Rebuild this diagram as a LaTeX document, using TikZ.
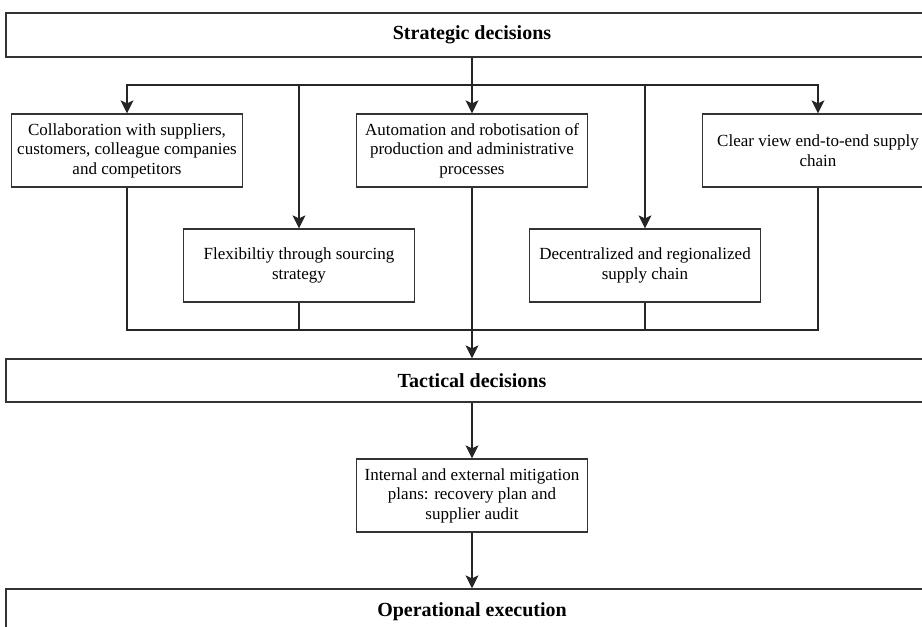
\documentclass[tikz,border=0pt]{standalone}
\usepackage{fontspec}
\setmainfont{Liberation Serif}
\usetikzlibrary{arrows.meta}
\begin{document}
\begin{tikzpicture}[x=1pt,y=-1pt,
  line width=1.3pt,
  box/.style={draw=black!80, rectangle, inner sep=0pt, align=center,
    minimum width=231pt, minimum height=73pt,
    font=\fontsize{17}{19.5}\selectfont},
  band/.style={draw=black!80, rectangle, inner sep=0pt, align=center,
    minimum width=932pt, font=\bfseries\fontsize{20}{22}\selectfont},
  arr/.style={draw=black!85, -{Stealth[length=13pt,width=13pt,inset=3pt]}},
  link/.style={draw=black!85}]
\useasboundingbox (0,0) rectangle (922,627);
\clip (0,0) rectangle (922,627);

% decision levels
\node[band, minimum height=44pt] (strat) at (472,35) {Strategic decisions};
\node[band, minimum height=43pt] (tact) at (472,380.5) {Tactical decisions};
\node[band, minimum height=46pt] (oper) at (472,612) {Operational execution};

% strategic measures
\node[box] (collab) at (127,150.5) {Collaboration with suppliers,\\customers, colleague companies\\and competitors};
\node[box] (autom) at (472,150.5) {Automation and robotisation of\\production and administrative\\processes};
\node[box] (clear) at (818,150.5) {Clear view end-to-end supply\\chain};
\node[box] (flex) at (299,265.5) {Flexibiltiy through sourcing\\strategy};
\node[box] (decent) at (645,265.5) {Decentralized and regionalized\\supply chain};

% tactical measure
\node[box] (intern) at (472,495.5) {Internal and external mitigation\\plans: recovery plan and\\supplier audit};

% distribution from the strategic level
\coordinate (split) at (472,85);
\coordinate (merge) at (472,330);
\draw[link] (strat.south -| split) -- (split);
\draw[arr] (split) -| (collab.north);
\draw[arr] (split) -| (flex.north);
\draw[arr] (split) -- (autom.north);
\draw[arr] (split) -| (decent.north);
\draw[arr] (split) -| (clear.north);

% collection into the tactical level
\draw[link] (collab.south) |- (merge);
\draw[link] (flex.south) |- (merge);
\draw[link] (decent.south) |- (merge);
\draw[link] (clear.south) |- (merge);
\draw[arr] (autom.south) -- (tact.north -| autom.south);

% tactical to operational
\draw[arr] (tact.south -| intern.north) -- (intern.north);
\draw[arr] (intern.south) -- (oper.north -| intern.south);
\end{tikzpicture}
\end{document}
